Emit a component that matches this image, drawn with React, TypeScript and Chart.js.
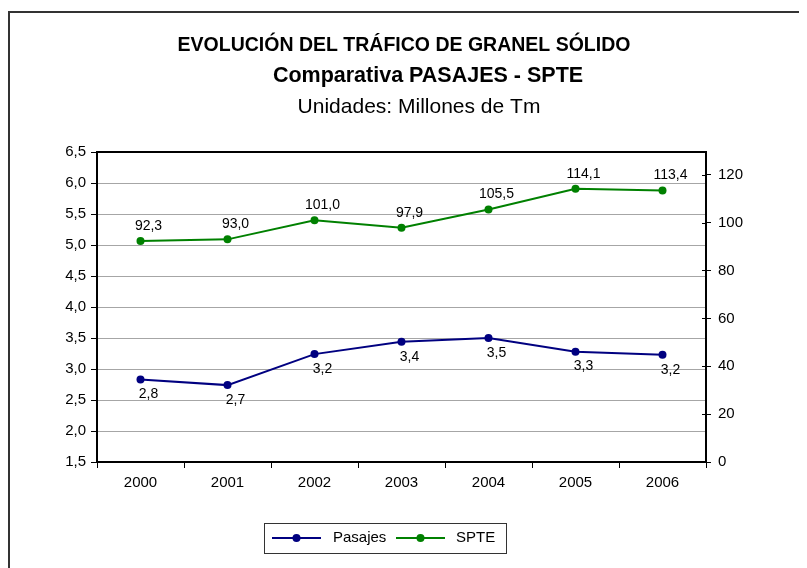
import React, { useEffect, useRef } from "react";
import { Chart, registerables } from "chart.js";

Chart.register(...registerables);

const years = ["2000", "2001", "2002", "2003", "2004", "2005", "2006"];
const pasajes = [2.83, 2.74, 3.24, 3.44, 3.5, 3.28, 3.23];
const spte = [92.3, 93.0, 101.0, 97.9, 105.5, 114.1, 113.4];
const rightTicks = [0, 20, 40, 60, 80, 100, 120];
const titleLines = [
  "EVOLUCIÓN DEL TRÁFICO DE GRANEL SÓLIDO",
  "Comparativa PASAJES - SPTE",
  "Unidades: Millones de Tm",
];
const seriesNames = ["Pasajes", "SPTE"];

const FONT = "'Liberation Sans', Arial, sans-serif";
const NAVY = "#000080";
const GREEN = "#008000";

const fmt = (v: number) => v.toFixed(1).replace(".", ",");

const decorPlugin = {
  id: "decor",
  afterDraw(chart: any) {
    const ctx = chart.ctx;
    const area = chart.chartArea;
    ctx.save();
    // plot box top line
    ctx.strokeStyle = "#000";
    ctx.lineWidth = 2;
    ctx.beginPath();
    ctx.moveTo(area.left, area.top);
    ctx.lineTo(area.right, area.top);
    ctx.stroke();
    // right axis inner tick marks (crossing)
    const y1 = chart.scales.y1;
    ctx.lineWidth = 1;
    rightTicks.forEach((v) => {
      const yy = Math.round(y1.getPixelForValue(v)) + 0.5;
      ctx.beginPath();
      ctx.moveTo(area.right - 4, yy);
      ctx.lineTo(area.right, yy);
      ctx.stroke();
    });

    // titles
    ctx.fillStyle = "#000";
    ctx.textAlign = "center";
    ctx.textBaseline = "middle";
    ctx.font = `bold 19.5px ${FONT}`;
    ctx.fillText(titleLines[0], 396, 38);
    ctx.font = `bold 21.5px ${FONT}`;
    ctx.fillText(titleLines[1], 420, 68);
    ctx.font = `21px ${FONT}`;
    ctx.fillText(titleLines[2], 411, 99);

    // legend
    const bx = 256, by = 515, bw = 242, bh = 30;
    ctx.strokeStyle = "#333";
    ctx.lineWidth = 1;
    ctx.strokeRect(bx + 0.5, by + 0.5, bw, bh);
    const ly = by + 15;
    const items = [
      { x: 264, color: NAVY, name: seriesNames[0], tx: 325 },
      { x: 388, color: GREEN, name: seriesNames[1], tx: 448 },
    ];
    items.forEach((it) => {
      ctx.strokeStyle = it.color;
      ctx.lineWidth = 2;
      ctx.beginPath();
      ctx.moveTo(it.x, ly);
      ctx.lineTo(it.x + 49, ly);
      ctx.stroke();
      ctx.fillStyle = it.color;
      ctx.beginPath();
      ctx.arc(it.x + 24.5, ly, 4, 0, Math.PI * 2);
      ctx.fill();
      ctx.fillStyle = "#000";
      ctx.font = `15px ${FONT}`;
      ctx.textAlign = "left";
      ctx.textBaseline = "middle";
      ctx.fillText(it.name, it.tx, ly);
    });
    ctx.restore();
  },
  afterDatasetsDraw(chart: any) {
    const ctx = chart.ctx;
    ctx.save();
    ctx.font = `14px ${FONT}`;
    ctx.fillStyle = "#000";
    ctx.textAlign = "center";
    ctx.textBaseline = "middle";
    chart.data.datasets.forEach((ds: any, di: number) => {
      const meta = chart.getDatasetMeta(di);
      meta.data.forEach((pt: any, i: number) => {
        const v = ds.data[i];
        const dy = di === 0 ? 15 : -15;
        ctx.fillText(fmt(v), pt.x + 8, pt.y + dy);
      });
    });
    ctx.restore();
  },
};

export default function App() {
  const ref = useRef<HTMLCanvasElement | null>(null);
  useEffect(() => {
    document.documentElement.style.overflow = "hidden";
    const canvas = ref.current!;
    const chart = new Chart(canvas, {
      type: "line",
      data: {
        labels: years,
        datasets: [
          {
            label: seriesNames[0],
            data: pasajes,
            yAxisID: "y",
            borderColor: NAVY,
            backgroundColor: NAVY,
            borderWidth: 2,
            pointRadius: 4,
            pointBackgroundColor: NAVY,
            pointBorderWidth: 0,
            tension: 0,
          },
          {
            label: seriesNames[1],
            data: spte,
            yAxisID: "y1",
            borderColor: GREEN,
            backgroundColor: GREEN,
            borderWidth: 2,
            pointRadius: 4,
            pointBackgroundColor: GREEN,
            pointBorderWidth: 0,
            tension: 0,
          },
        ],
      },
      options: {
        responsive: false,
        animation: false,
        events: [],
        layout: { padding: { top: 144, left: 0, right: 0, bottom: 0 } },
        plugins: {
          legend: { display: false },
          title: { display: false },
          tooltip: { enabled: false },
        },
        scales: {
          x: {
            type: "category",
            offset: true,
            grid: {
              drawOnChartArea: false,
              offset: true,
              tickLength: 6,
              color: "#000",
              tickColor: "#000",
            },
            border: { color: "#000", width: 2 },
            ticks: { color: "#000", font: { family: FONT, size: 15 }, padding: 6 },
            afterFit: (s: any) => {
              s.height = 106;
            },
          },
          y: {
            position: "left",
            min: 1.5,
            max: 6.5,
            ticks: {
              stepSize: 0.5,
              color: "#000",
              font: { family: FONT, size: 15 },
              padding: 5,
              callback: (v: any) => fmt(Number(v)),
            },
            grid: { color: "#a6a6a6", tickColor: "#000", tickLength: 6, lineWidth: 1 },
            border: { color: "#000", width: 2 },
            afterFit: (s: any) => {
              s.width = 89;
            },
          },
          y1: {
            position: "right",
            min: 0,
            max: 129.5,
            afterBuildTicks: (s: any) => {
              s.ticks = rightTicks.map((v) => ({ value: v }));
            },
            ticks: {
              color: "#000",
              font: { family: FONT, size: 15 },
              padding: 7,
              callback: (v: any) => String(v),
            },
            grid: { drawOnChartArea: false, color: "#000", tickLength: 5 },
            border: { color: "#000", width: 2 },
            afterFit: (s: any) => {
              s.width = 101;
            },
          },
        },
      } as any,
      plugins: [decorPlugin],
    });
    return () => chart.destroy();
  }, []);

  return (
    <div style={{ position: "relative", width: 799, height: 560, overflow: "hidden", background: "#fff" }}>
      <div
        style={{
          position: "absolute",
          left: 0,
          top: 3,
          width: 900,
          height: 700,
          borderLeft: "2px solid #333",
          borderTop: "2px solid #333",
        }}
      />
      <canvas ref={ref} width={799} height={560} style={{ position: "absolute", left: 0, top: 0 }} />
    </div>
  );
}
